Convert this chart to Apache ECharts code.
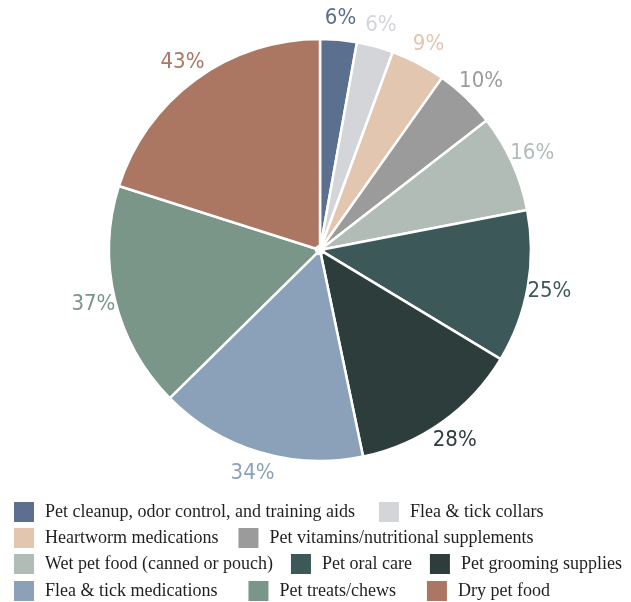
<!DOCTYPE html>
<html>
<head>
<meta charset="utf-8">
<script src="https://cdn.jsdelivr.net/npm/echarts@6/dist/echarts.min.js"></script>
<style>
html,body{margin:0;padding:0;background:#fff;}
#chart{width:631px;height:602px;}
</style>
</head>
<body>
<div id="chart"></div>
<script>
const categories = [
  "Pet cleanup, odor control, and training aids",
  "Flea & tick collars",
  "Heartworm medications",
  "Pet vitamins/nutritional supplements",
  "Wet pet food (canned or pouch)",
  "Pet oral care",
  "Pet grooming supplies",
  "Flea & tick medications",
  "Pet treats/chews",
  "Dry pet food"
];
const values = [6, 6, 9, 10, 16, 25, 28, 34, 37, 43];
const colors = ["#5b6f8f", "#d3d5d8", "#e2c6b0", "#9b9b9b", "#b2bcb6", "#3d5858", "#2d3d3c", "#8ba1b9", "#7a9689", "#ab7662"];
const legendRows = [
  [categories[0], categories[1]],
  [categories[2], categories[3]],
  [categories[4], categories[5], categories[6]],
  [categories[7], categories[8], categories[9]]
];

const chart = echarts.init(document.getElementById('chart'), null, {renderer: 'canvas'});

const mainData = categories.map((n, i) => ({
  name: n, value: values[i], itemStyle: {color: colors[i]}
}));
const labelData = categories.map((n, i) => ({
  name: n, value: values[i],
  itemStyle: {color: 'rgba(0,0,0,0)'},
  label: {color: colors[i]}
}));

const rowTops = [502, 528, 554, 581];
const rowGaps = [24, 20, 18, 31];
const legends = legendRows.map((row, r) => ({
  data: row,
  orient: 'horizontal',
  left: 14,
  top: rowTops[r],
  width: 660,
  padding: 0,
  itemWidth: 20,
  itemHeight: 20,
  itemGap: rowGaps[r],
  icon: 'rect',
  selectedMode: false,
  itemStyle: {borderWidth: 0},
  textStyle: {
    fontFamily: "'Liberation Serif', 'DejaVu Serif', serif",
    fontSize: 18,
    color: '#1f1f1f',
    padding: [0, 0, 0, 6]
  }
}));

chart.setOption({
  animation: false,
  backgroundColor: '#ffffff',
  legend: legends,
  series: [
    {
      type: 'pie',
      center: [320, 250],
      radius: [4, 211],
      startAngle: 90,
      clockwise: true,
      silent: true,
      itemStyle: {borderColor: '#ffffff', borderWidth: 2.5},
      label: {show: false},
      labelLine: {show: false},
      data: mainData
    },
    {
      type: 'pie',
      center: [320, 250],
      radius: [218, 242],
      startAngle: 90,
      clockwise: true,
      silent: true,
      legendHoverLink: false,
      itemStyle: {borderWidth: 0},
      label: {
        show: true,
        position: 'inside',
        formatter: '{c}%',
        fontFamily: "'Liberation Sans Narrow', 'DejaVu Sans Condensed', sans-serif",
        fontSize: 22,
        fontWeight: 'normal'
      },
      labelLine: {show: false},
      data: labelData
    }
  ]
});
</script>
</body>
</html>
